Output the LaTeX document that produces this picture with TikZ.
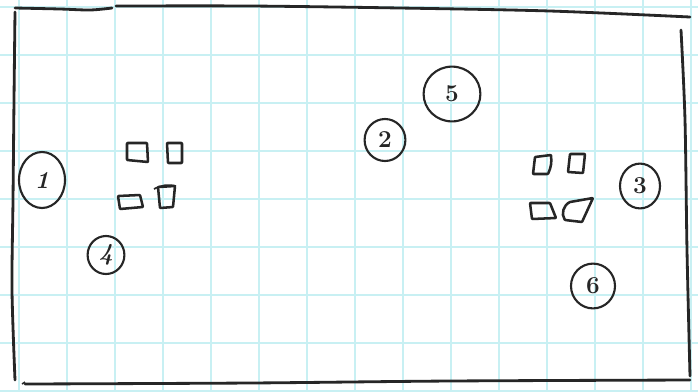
\documentclass[tikz,border=0pt]{standalone}
\usepackage{tikz}
\usetikzlibrary{shapes.geometric}
\definecolor{gridcyan}{HTML}{C8F0F3}
\definecolor{pencil}{HTML}{262626}
\tikzset{
  spot/.style={draw=pencil,line width=1.5pt,ellipse,inner sep=0pt,font=\LARGE\bfseries,text=pencil},
  seat/.style={draw=pencil,line width=1.8pt,line join=round,rounded corners=0.5pt},
  wall/.style={draw=pencil,line width=2pt,line cap=round}
}
\begin{document}
\begin{tikzpicture}[x=0.025cm,y=-0.025cm]
\useasboundingbox (0,0) rectangle (698,391);
\fill[white] (0,0) rectangle (698,391);
% grid paper
\foreach \gx in {19,67,...,691} \draw[gridcyan,line width=1.2pt] (\gx,0)--(\gx,391);
\foreach \gy in {7,55,...,391} \draw[gridcyan,line width=1.2pt] (0,\gy)--(698,\gy);
% room outline
\draw[wall] plot[smooth] coordinates {(15,8) (60,9) (90,10) (112,8)};
\draw[wall] plot[smooth] coordinates {(116,6) (250,6) (400,8) (550,11) (690,17)};
\draw[wall] plot[smooth] coordinates {(681,30) (685,120) (687,250) (690,376)};
\draw[wall] plot[smooth] coordinates {(25,384) (250,383) (450,381) (690,380)};
\draw[wall] plot[smooth] coordinates {(15,12) (14,100) (13,200) (12,290) (15,380)};
\draw[pencil,line width=1pt] (22,384)--(25,382);
% numbered spots
\node[spot,minimum width=1.15cm,minimum height=1.4cm] (s1) at (42,180) {\itshape 1};
\node[spot,minimum width=1.02cm,minimum height=1.05cm] (s2) at (385,140) {2};
\node[spot,minimum width=1.0cm,minimum height=1.12cm] (s3) at (640,186) {3};
\node[spot,minimum width=0.92cm,minimum height=0.95cm] (s4) at (106,255) {\itshape 4};
\node[spot,minimum width=1.42cm,minimum height=1.37cm] (s5) at (452,94) {5};
\node[spot,minimum width=1.1cm,minimum height=1.12cm] (s6) at (593,286) {6};
% left group
\draw[seat] (127,143)--(147,143)--(148,162)--(127,160)--cycle;
\draw[seat] (167,143)--(182,143)--(182,163)--(168,163)--cycle;
\draw[seat] (118,196)--(140,195)--(143,207)--(120,209)--cycle;
\draw[seat] (158,187)--(175,186)--(173,207)--(160,208)--cycle;
\draw[pencil,line width=1.2pt] (154,189) to[bend left=20] (176,186);
% right group
\draw[seat] (535,157)--(551,155) to[bend left=15] (548,174)--(533,174)--cycle;
\draw[seat] (570,154)--(585,154)--(583,173)--(568,172)--cycle;
\draw[seat] (530,203)--(550,203)--(556,218)--(532,219)--cycle;
\draw[seat] (570,202)--(593,198)--(582,222)--(565,220) to[bend left=50] (570,202);
\end{tikzpicture}
\end{document}
